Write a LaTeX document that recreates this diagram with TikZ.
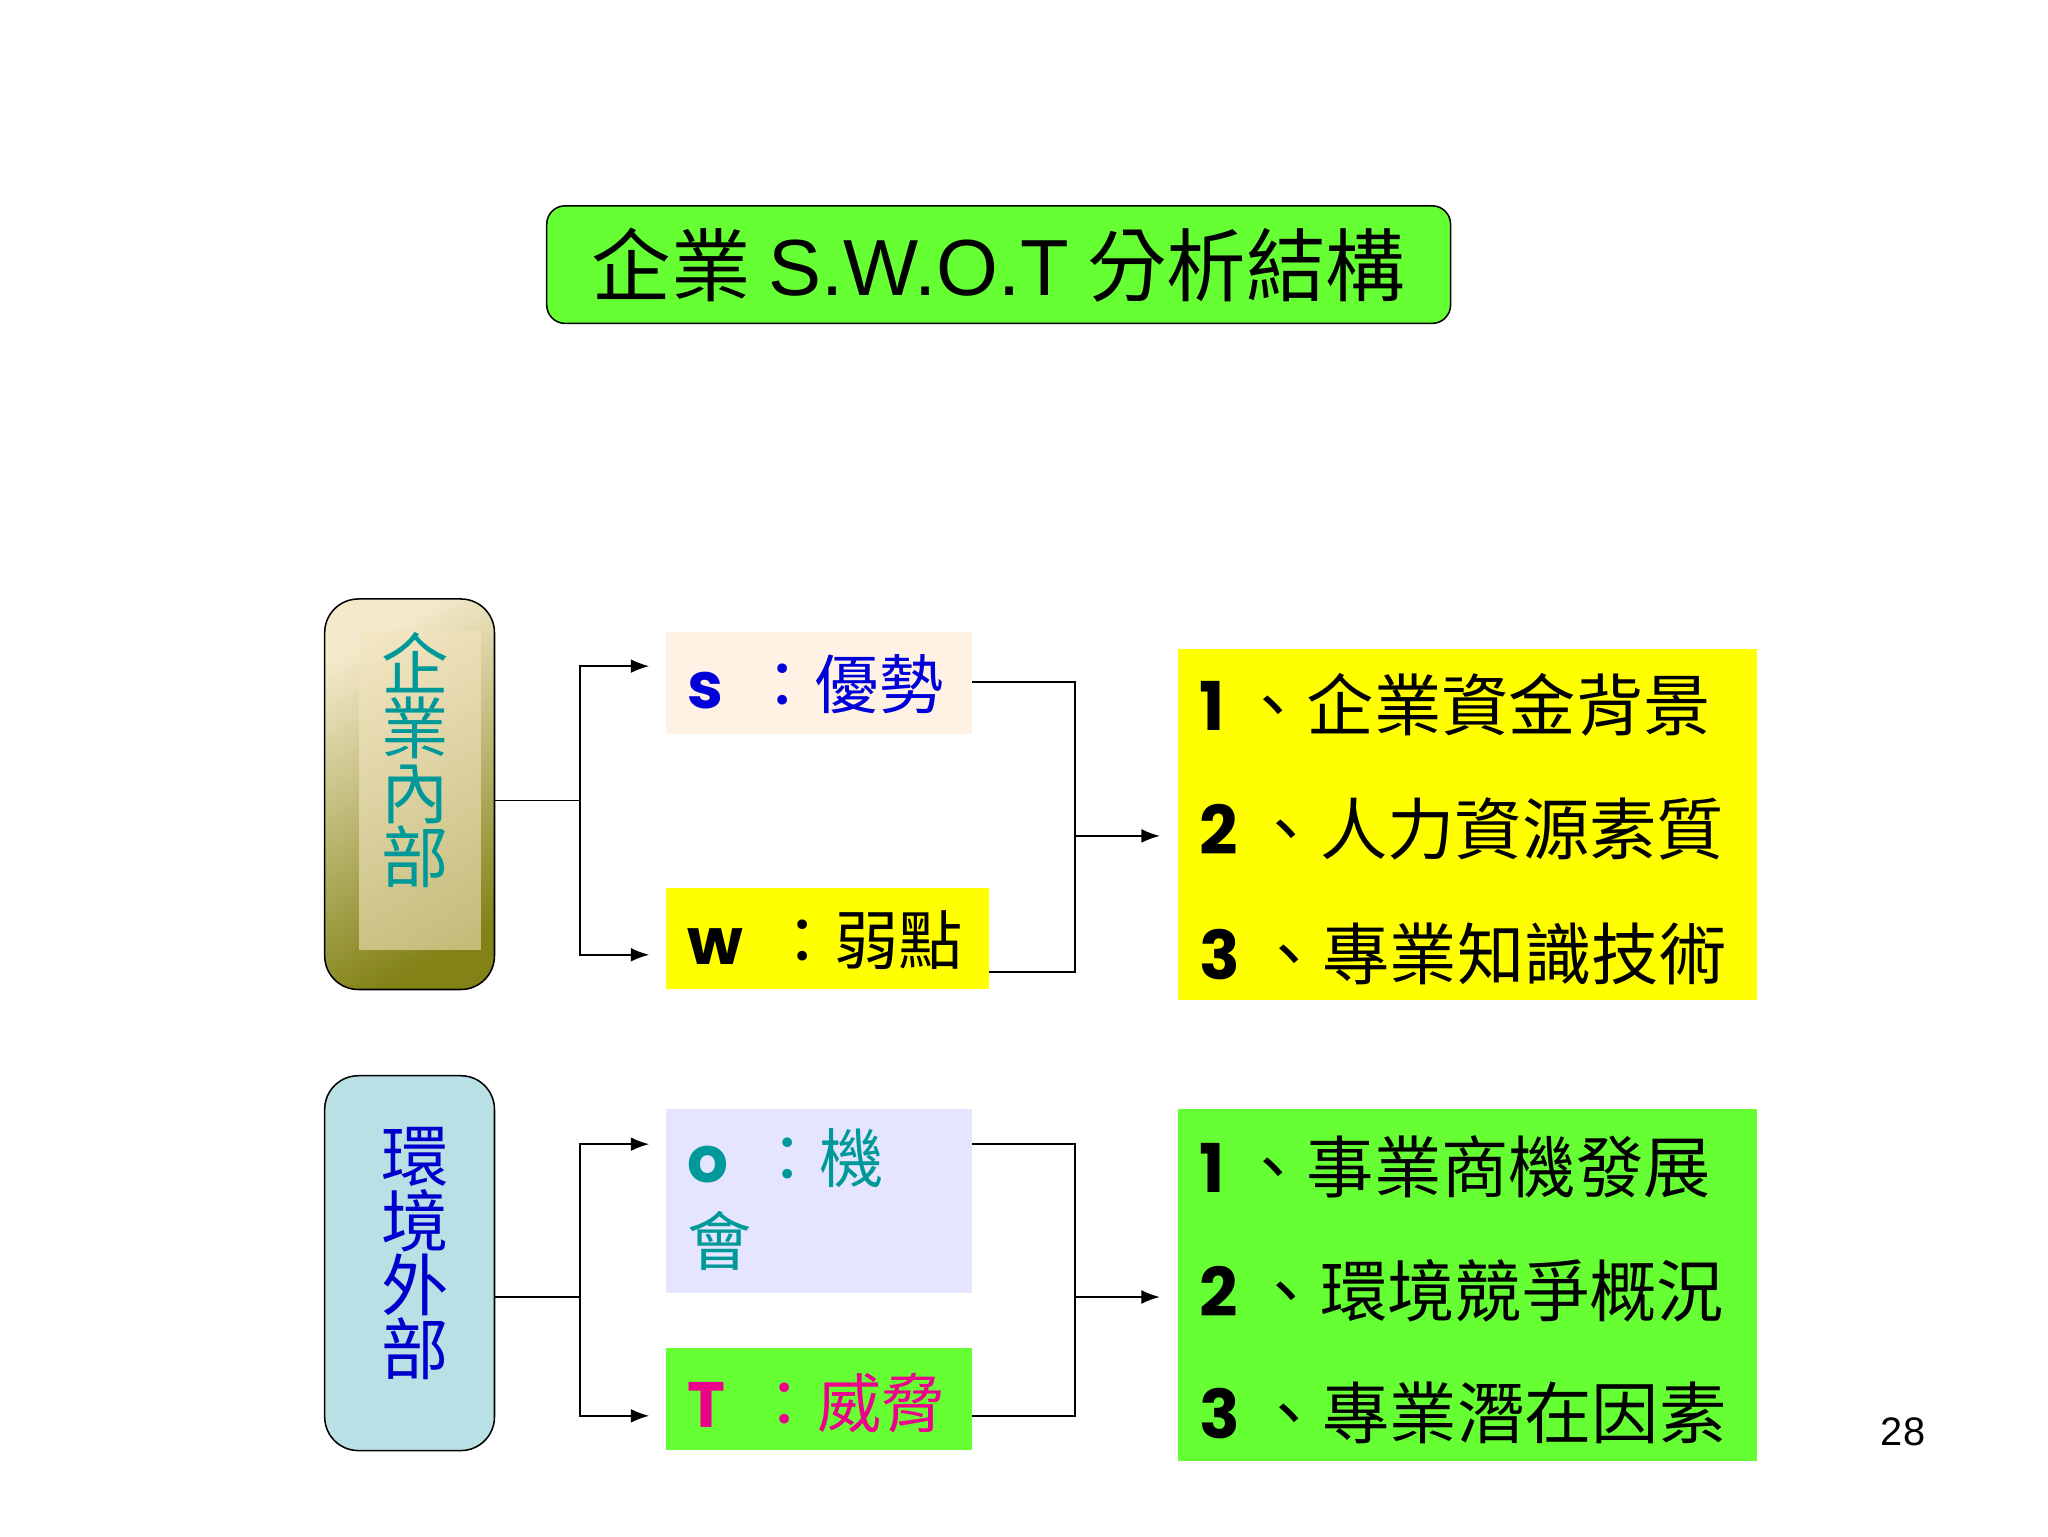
\documentclass[tikz,border=0pt]{standalone}
\usepackage{fontspec}
\setmainfont{Liberation Sans}
\newfontfamily\cjk{Noto Sans CJK TC}
\usetikzlibrary{arrows.meta}
\definecolor{gr}{HTML}{66FF33}
\definecolor{yl}{HTML}{FFFF00}
\definecolor{teal2}{HTML}{009999}
\definecolor{lb}{HTML}{B9E0E5}
\tikzset{
 box/.style={draw=none,inner sep=0pt,anchor=north west},
 conn/.style={line width=1pt},
 arr/.style={line width=1pt,-{Latex[length=12pt,width=9pt]}},
}
\newcommand{\fs}[1]{\fontsize{#1}{#1}\selectfont}
\begin{document}
\begin{tikzpicture}[x=0.03cm,y=-0.03cm]
\useasboundingbox[fill=white] (0,0) rectangle (1568,1176);
% title
\node[draw,line width=1pt,rounded corners=12pt,fill=gr,minimum width=692*0.03cm,minimum height=90*0.03cm,anchor=north west] (title) at (418,157)
 {\fs{52}\cjk 企業 {\fontspec{Liberation Sans}S.W.O.T} 分析結構};
% left boxes
\node[draw,line width=1pt,rounded corners=22pt,top color=yellow!30!brown!25,bottom color=black!40!olive!70,shading angle=30,minimum width=130*0.03cm,minimum height=299*0.03cm,anchor=north west] (in) at (248,458) {};
\fill[yellow!30!brown!30,opacity=0.6] (275,483) rectangle (368,727);
\node[text=teal2,align=center,font=\fs{44}\cjk] at (318,582) {企\\[-2pt]業\\[-2pt]內\\[-2pt]部};
\node[draw,line width=1pt,rounded corners=22pt,fill=lb,minimum width=130*0.03cm,minimum height=287*0.03cm,anchor=north west] (out) at (248,823) {};
\node[text=blue!80!black,align=center,font=\fs{44}\cjk] at (318,960) {環\\[-2pt]境\\[-2pt]外\\[-2pt]部};
\coordinate (inE) at (378,613);
\coordinate (outE) at (378,993);
% middle boxes
\fill[orange!10] (510,484) rectangle (744,562);
\coordinate (S) at (744,522);
\node[anchor=west,text=blue!85!black] at (522,524) {\fs{42}{\fontspec{Poppins}\bfseries s}\hspace{18pt}\cjk：優勢};
\fill[yl] (510,680) rectangle (757,757);
\coordinate (W) at (757,744);
\node[anchor=west] at (522,720) {\fs{42}{\fontspec{Poppins}\bfseries w}\hspace{18pt}\cjk：弱點};
\fill[blue!10] (510,849) rectangle (744,990);
\coordinate (O) at (744,876);
\node[anchor=north west,text=teal2,align=left,font=\fs{42}\cjk] at (522,860) {{\fontspec{Poppins}\bfseries o}\hspace{18pt}：機\\[12pt]會};
\fill[gr] (510,1032) rectangle (744,1110);
\coordinate (T) at (744,1084);
\node[anchor=west,text=magenta] at (522,1074) {\fs{42}{\fontspec{Poppins}\bfseries T}\hspace{18pt}\cjk：威脅};
% right boxes
\node[box,fill=yl,minimum width=443*0.03cm,minimum height=268*0.03cm] (r1) at (902,497) {};
\node[anchor=west] at (914,540) {\fs{44}{\fontspec{Poppins}\bfseries 1}\cjk\ 、企業資金背景};
\node[anchor=west] at (914,635) {\fs{44}{\fontspec{Poppins}\bfseries 2}\cjk\ 、人力資源素質};
\node[anchor=west] at (914,730) {\fs{44}{\fontspec{Poppins}\bfseries 3}\cjk\ 、專業知識技術};
\node[box,fill=gr,minimum width=443*0.03cm,minimum height=269*0.03cm] (r2) at (902,849) {};
\node[anchor=west] at (914,893) {\fs{44}{\fontspec{Poppins}\bfseries 1}\cjk\ 、事業商機發展};
\node[anchor=west] at (914,988) {\fs{44}{\fontspec{Poppins}\bfseries 2}\cjk\ 、環境競爭概況};
\node[anchor=west] at (914,1082) {\fs{44}{\fontspec{Poppins}\bfseries 3}\cjk\ 、專業潛在因素};
\node at (1457,1096) {\fs{26}28};
% connectors
\coordinate (a1) at (497,510); \coordinate (a2) at (497,731);
\coordinate (b1) at (497,876); \coordinate (b2) at (497,1084);
\draw[conn] (inE) -- (444,613);
\draw[arr] (444,613) |- (a1);
\draw[arr] (444,613) |- (a2);
\draw[conn] (outE) -- (444,993);
\draw[arr] (444,993) |- (b1);
\draw[arr] (444,993) |- (b2);
\draw[conn] (S) -| (823,744) -- (W);
\draw[arr] (823,640) -- (888,640);
\draw[conn] (O) -| (823,1084) -- (T);
\draw[arr] (823,993) -- (888,993);
\end{tikzpicture}
\end{document}
